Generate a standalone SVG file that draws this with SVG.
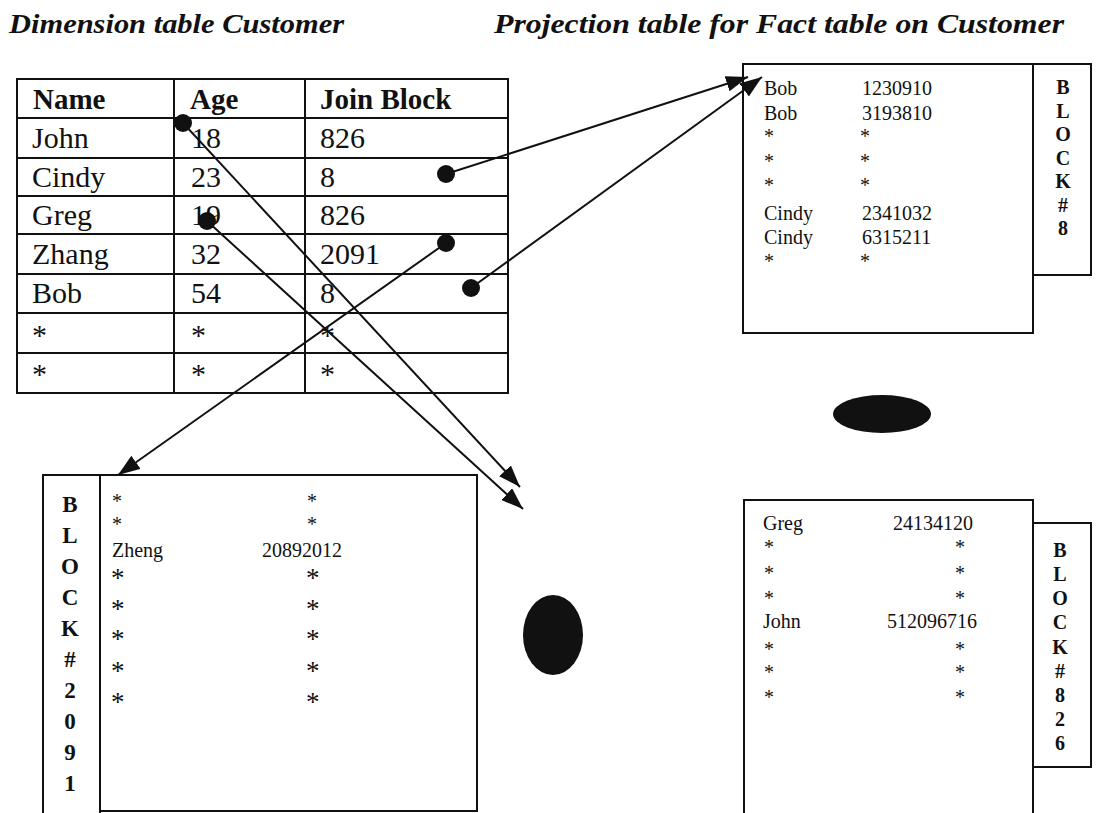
<svg xmlns="http://www.w3.org/2000/svg" width="1099" height="813" viewBox="0 0 1099 813">
<style>
.title{font-family:"Liberation Serif",serif;font-weight:bold;font-style:italic;font-size:28px;fill:#111}
.th{font-family:"Liberation Serif",serif;font-weight:bold;font-size:29px;fill:#111}
.td{font-family:"Liberation Serif",serif;font-size:30px;fill:#111}
.bt{font-family:"Liberation Serif",serif;font-size:20px;fill:#111}
.bl{font-family:"Liberation Serif",serif;font-weight:bold;font-size:20px;fill:#111;text-anchor:middle}
.bl2{font-family:"Liberation Serif",serif;font-weight:bold;font-size:23px;fill:#111;text-anchor:middle}
.ln{stroke:#111;stroke-width:2;fill:none}
.box{stroke:#111;stroke-width:2;fill:#fff}
.conn{stroke:#111;stroke-width:2;fill:none;marker-end:url(#ah)}
.dot{fill:#111}
</style>
<defs>
<marker id="ah" markerUnits="userSpaceOnUse" markerWidth="24" markerHeight="18" refX="22" refY="8" orient="auto">
<path d="M0,0 L22,8 L0,16 z" fill="#111"/>
</marker>
</defs>
<rect width="1099" height="813" fill="#fff"/>

<g id="titles">
<text class="title" x="9" y="33" textLength="335" lengthAdjust="spacingAndGlyphs">Dimension table Customer</text>
<text class="title" x="494" y="33" textLength="570" lengthAdjust="spacingAndGlyphs">Projection table for Fact table on Customer</text>
</g>

<g id="customer-table">
<rect class="ln" x="17" y="79" width="491" height="314"/>
<line class="ln" x1="174" y1="79" x2="174" y2="393"/>
<line class="ln" x1="305" y1="79" x2="305" y2="393"/>
<line class="ln" x1="17" y1="118" x2="508" y2="118"/>
<line class="ln" x1="17" y1="158" x2="508" y2="158"/>
<line class="ln" x1="17" y1="196" x2="508" y2="196"/>
<line class="ln" x1="17" y1="234" x2="508" y2="234"/>
<line class="ln" x1="17" y1="274" x2="508" y2="274"/>
<line class="ln" x1="17" y1="313" x2="508" y2="313"/>
<line class="ln" x1="17" y1="353" x2="508" y2="353"/>
<text class="th" x="33" y="109">Name</text>
<text class="th" x="190" y="109">Age</text>
<text class="th" x="320" y="109">Join Block</text>
<text class="td" x="32" y="148">John</text><text class="td" x="191" y="148">18</text><text class="td" x="320" y="148">826</text>
<text class="td" x="32" y="187">Cindy</text><text class="td" x="191" y="187">23</text><text class="td" x="320" y="187">8</text>
<text class="td" x="32" y="225">Greg</text><text class="td" x="191" y="225">19</text><text class="td" x="320" y="225">826</text>
<text class="td" x="32" y="264">Zhang</text><text class="td" x="191" y="264">32</text><text class="td" x="320" y="264">2091</text>
<text class="td" x="32" y="303">Bob</text><text class="td" x="191" y="303">54</text><text class="td" x="320" y="303">8</text>
<text class="td" x="32" y="345">*</text><text class="td" x="191" y="345">*</text><text class="td" x="320" y="345">*</text>
<text class="td" x="32" y="384">*</text><text class="td" x="191" y="384">*</text><text class="td" x="320" y="384">*</text>
</g>

<g id="block-8">
<rect class="box" x="743" y="64" width="290" height="269"/>
<rect class="box" x="1033" y="64" width="58" height="211"/>
<text class="bt" x="764" y="95">Bob</text><text class="bt" x="862" y="95">1230910</text>
<text class="bt" x="764" y="120">Bob</text><text class="bt" x="862" y="120">3193810</text>
<text class="bt" x="764" y="143">*</text><text class="bt" x="860" y="143">*</text>
<text class="bt" x="764" y="168">*</text><text class="bt" x="860" y="168">*</text>
<text class="bt" x="764" y="192">*</text><text class="bt" x="860" y="192">*</text>
<text class="bt" x="764" y="220">Cindy</text><text class="bt" x="862" y="220">2341032</text>
<text class="bt" x="764" y="244">Cindy</text><text class="bt" x="862" y="244">6315211</text>
<text class="bt" x="764" y="268">*</text><text class="bt" x="860" y="268">*</text>
<text class="bl" x="1063" y="94">B</text>
<text class="bl" x="1063" y="117.5">L</text>
<text class="bl" x="1063" y="141">O</text>
<text class="bl" x="1063" y="164.5">C</text>
<text class="bl" x="1063" y="188">K</text>
<text class="bl" x="1063" y="211.5">#</text>
<text class="bl" x="1063" y="235">8</text>
</g>

<g id="block-2091">
<path class="ln" d="M43,813 V475 H477 V811 H100"/>
<line class="ln" x1="100" y1="475" x2="100" y2="813"/>
<text class="bl2" x="70" y="512">B</text>
<text class="bl2" x="70" y="543">L</text>
<text class="bl2" x="70" y="574">O</text>
<text class="bl2" x="70" y="605">C</text>
<text class="bl2" x="70" y="636">K</text>
<text class="bl2" x="70" y="667">#</text>
<text class="bl2" x="70" y="698">2</text>
<text class="bl2" x="70" y="729">0</text>
<text class="bl2" x="70" y="760">9</text>
<text class="bl2" x="70" y="791">1</text>
<text class="bt" x="112" y="508">*</text><text class="bt" x="307" y="508">*</text>
<text class="bt" x="112" y="531">*</text><text class="bt" x="307" y="531">*</text>
<text class="bt" x="112" y="557">Zheng</text><text class="bt" x="262" y="557">20892012</text>
<text class="bt" x="111" y="587" style="font-size:27px">*</text><text class="bt" x="306" y="587" style="font-size:27px">*</text>
<text class="bt" x="111" y="618" style="font-size:27px">*</text><text class="bt" x="306" y="618" style="font-size:27px">*</text>
<text class="bt" x="111" y="648" style="font-size:27px">*</text><text class="bt" x="306" y="648" style="font-size:27px">*</text>
<text class="bt" x="111" y="680" style="font-size:27px">*</text><text class="bt" x="306" y="680" style="font-size:27px">*</text>
<text class="bt" x="111" y="711" style="font-size:27px">*</text><text class="bt" x="306" y="711" style="font-size:27px">*</text>
</g>

<g id="block-826">
<path class="ln" d="M744,813 V500 H1033 V813"/>
<rect class="box" x="1033" y="523" width="58" height="244"/>
<text class="bt" x="763" y="530">Greg</text><text class="bt" x="893" y="530">24134120</text>
<text class="bt" x="764" y="554">*</text><text class="bt" x="955" y="554">*</text>
<text class="bt" x="764" y="580">*</text><text class="bt" x="955" y="580">*</text>
<text class="bt" x="764" y="605">*</text><text class="bt" x="955" y="605">*</text>
<text class="bt" x="763" y="628">John</text><text class="bt" x="887" y="628">512096716</text>
<text class="bt" x="764" y="656">*</text><text class="bt" x="955" y="656">*</text>
<text class="bt" x="764" y="679">*</text><text class="bt" x="955" y="679">*</text>
<text class="bt" x="764" y="704">*</text><text class="bt" x="955" y="704">*</text>
<text class="bl" x="1060" y="557">B</text>
<text class="bl" x="1060" y="581">L</text>
<text class="bl" x="1060" y="605">O</text>
<text class="bl" x="1060" y="629">C</text>
<text class="bl" x="1060" y="654">K</text>
<text class="bl" x="1060" y="678">#</text>
<text class="bl" x="1060" y="702">8</text>
<text class="bl" x="1060" y="726">2</text>
<text class="bl" x="1060" y="750">6</text>
</g>

<g id="ellipsis-marks">
<ellipse class="dot" cx="882" cy="414" rx="49" ry="19"/>
<ellipse class="dot" cx="553" cy="635" rx="30" ry="40"/>
</g>

<g id="connectors">
<line class="conn" x1="446" y1="174" x2="748" y2="77"/>
<line class="conn" x1="471" y1="288" x2="762" y2="77"/>
<line class="conn" x1="446" y1="243" x2="118" y2="475"/>
<line class="conn" x1="183" y1="123" x2="520" y2="487"/>
<line class="conn" x1="207" y1="221" x2="523" y2="509"/>
<circle class="dot" cx="183" cy="123" r="9"/>
<circle class="dot" cx="446" cy="174" r="9"/>
<circle class="dot" cx="207" cy="221" r="9"/>
<circle class="dot" cx="446" cy="243" r="9"/>
<circle class="dot" cx="471" cy="288" r="9"/>
</g>
</svg>
